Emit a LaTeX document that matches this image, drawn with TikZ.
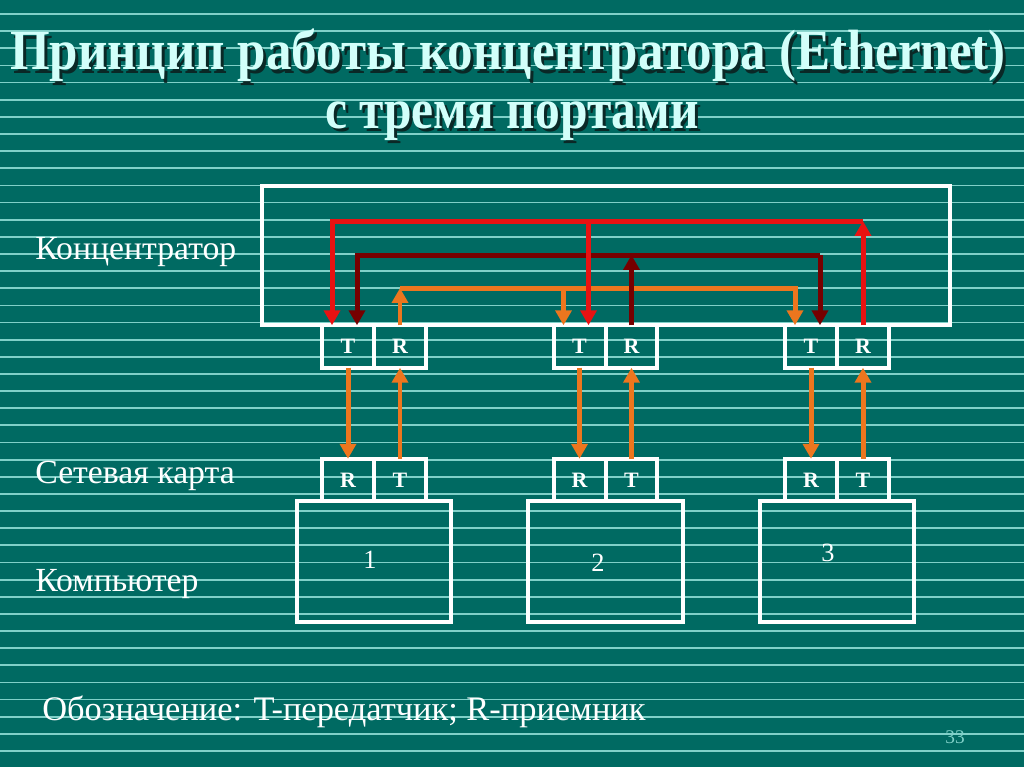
\documentclass[tikz,border=0pt]{standalone}
\usepackage{graphicx}
\usepackage{fontspec}
\setmainfont{Liberation Serif}
\usetikzlibrary{positioning,arrows.meta}

\definecolor{slidebg}{RGB}{0,106,98}
\definecolor{stripe}{RGB}{128,208,200}
\definecolor{titlefg}{RGB}{210,255,250}
\definecolor{titlesh}{RGB}{10,40,38}
\definecolor{busred}{RGB}{232,18,18}
\definecolor{busdark}{RGB}{118,0,0}
\definecolor{busorange}{RGB}{236,118,30}

\newcommand{\headline}[2]{\resizebox{#1}{\height}{#2}}

\begin{document}
\begin{tikzpicture}[x=0.02cm,y=-0.02cm,
	box/.style={draw=white, line width=0.08cm, inner sep=0pt, outer sep=0pt},
	port/.style={box, minimum width=1.04cm, minimum height=0.85cm, text=white,
		font=\fontsize{12.5}{14}\selectfont\bfseries},
	pcbox/.style={box, minimum width=3.1cm, minimum height=2.42cm, anchor=north},
	wire/.style={line width=0.1cm, draw=#1},
	tip/.style={-{Triangle[width=0.32cm,length=0.3cm]}},
	title/.style={anchor=base, inner sep=0pt, text=titlefg, font=\fontsize{32.3}{36}\selectfont\bfseries},
	caption/.style={anchor=base west, inner sep=0pt, text=white, font=\fontsize{19.2}{22}\selectfont},
	pcnum/.style={text=white, font=\fontsize{15}{17}\selectfont}]
	\useasboundingbox (0,0) rectangle (1024,767);
	% slide background
	\fill[slidebg] (0,0) rectangle (1024,767);
	\foreach \k in {0,...,43}
		\draw[stripe, line width=0.035cm] (0,14+17.14*\k) -- (1024,14+17.14*\k);

	% heading with shadow
	\node[title, text=titlesh] (tsh1) at (511,73) {\headline{19.92cm}{Принцип работы концентратора (Ethernet)}};
	\node[title] (title1) at (508,70) {\headline{19.92cm}{Принцип работы концентратора (Ethernet)}};
	\node[title, text=titlesh] (tsh2) at (515,131) {\headline{7.48cm}{с тремя портами}};
	\node[title] (title2) at (512,128) {\headline{7.48cm}{с тремя портами}};

	% hub
	\node[box, minimum width=13.76cm, minimum height=2.78cm] (hub) at (606,255.5) {};
	\node[caption] (lbhub) at (35,259) {Концентратор};
	\node[caption] (lbnic) at (35,483) {Сетевая карта};
	\node[caption] (lbpc) at (35,591) {Компьютер};

	\foreach \i/\x/\nx/\ny in {1/374/370/560, 2/605.5/598/563, 3/837/828/553} {
		\node[port, anchor=east] (hT\i) at (\x,346.5) {T};
		\node[port, right=0pt of hT\i] (hR\i) {R};
		\node[port, anchor=east] (nR\i) at (\x,480) {R};
		\node[port, right=0pt of nR\i] (nT\i) {T};
		\node[pcbox, below=0pt of nR\i.south east] (pc\i) {};
		\node[pcnum] (num\i) at (\nx,\ny) {\i};
		\coordinate (tl\i) at ([xshift=-0.32cm]hT\i.north);
		\coordinate (tr\i) at ([xshift=0.18cm]hT\i.north);
		% hub <-> network card
		\draw[wire=busorange, tip] (hT\i) -- (nR\i);
		\draw[wire=busorange, tip] (nT\i) -- (hR\i);
	}

	% levels of the buses inside the hub
	\coordinate (lvR) at (0,221);
	\coordinate (lvD) at (0,255);
	\coordinate (lvO) at (0,288);

	% port 1 -> ports 2,3
	\draw[wire=busorange, tip] (hR1.north) -- (hR1.north |- lvO);
	\draw[wire=busorange, tip] (hR1.north |- lvO) -- (tl3 |- lvO) -- (tl3);
	\draw[wire=busorange, tip] (tl2 |- lvO) -- (tl2);
	% port 2 -> ports 1,3
	\draw[wire=busdark, tip] (hR2.north) -- (hR2.north |- lvD);
	\draw[wire=busdark, tip] (tr3 |- lvD) -- (tr1 |- lvD) -- (tr1);
	\draw[wire=busdark, tip] (tr3 |- lvD) -- (tr3);
	% port 3 -> ports 1,2
	\draw[wire=busred, tip] (hR3.north) -- (hR3.north |- lvR);
	\draw[wire=busred, tip] (hR3.north |- lvR) -- (tl1 |- lvR) -- (tl1);
	\draw[wire=busred, tip] (tr2 |- lvR) -- (tr2);

	\node[caption, font=\fontsize{19.6}{22}\selectfont] (legend) at (42,720)
		{Обозначение: T-передатчик; R-приемник};
	\node[text=stripe, font=\fontsize{11}{12}\selectfont] (page) at (955,737) {33};
\end{tikzpicture}
\end{document}
